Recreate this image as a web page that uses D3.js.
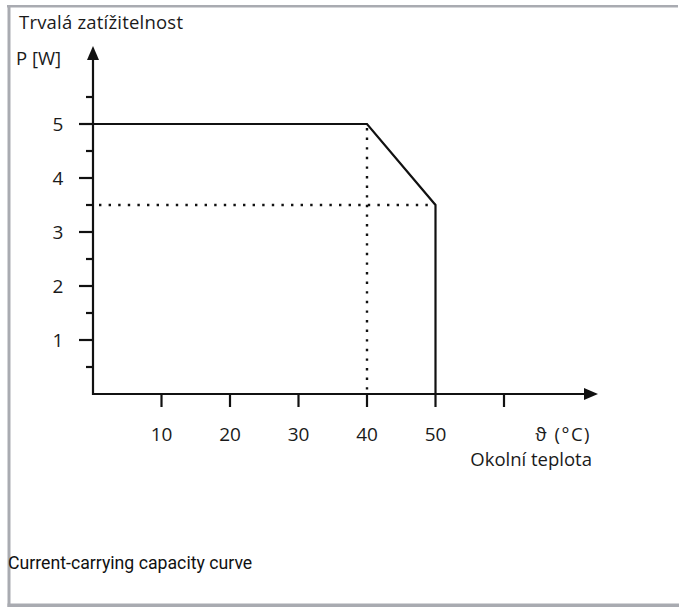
<!DOCTYPE html>
<html>
<head>
<meta charset="utf-8">
<script src="https://cdn.jsdelivr.net/npm/d3@7"></script>
<style>
  body { margin: 0; background: #fff; }
  svg text { font-family: "Open Sans", sans-serif; fill: #1a1a1a; }
</style>
</head>
<body>
<div id="chart"></div>
<script>
// data: derating curve (temperature -> power)
const curveT = [0, 40, 50, 50]
const curveP = [5, 5, 3.5, 0]
const xTicks = [10, 20, 30, 40, 50, 60]
const xTickLabels = ["10", "20", "30", "40", "50", ""]
const yMajor = [1, 2, 3, 4, 5]
const yMinor = [0.5, 1.5, 2.5, 3.5, 4.5, 5.5]
const kneeT = 40
const endT = 50
const endP = 3.5

const width = 679
const height = 607

const svg = d3.select("div#chart").append("svg").attr("width", width).attr("height", height)

// frame
const frame = svg.append("g").attr("id", "frame").attr("fill", "#a9abb1")
frame.append("rect").attr("x", 7).attr("y", 5).attr("width", 671).attr("height", 2.5)
frame.append("rect").attr("x", 7.5).attr("y", 5).attr("width", 3).attr("height", 602)
frame.append("rect").attr("x", 7.5).attr("y", 603.5).attr("width", 671.5).attr("height", 3.5)

const x = d3.scaleLinear().domain([0, 60]).range([93, 504])
const y = d3.scaleLinear().domain([0, 5]).range([394, 124])

const g = svg.append("g").attr("id", "elementGroup")

// dotted guides
g.append("line")
  .attr("x1", x(kneeT)).attr("x2", x(kneeT))
  .attr("y1", y(5) + 4).attr("y2", y(0))
  .attr("stroke", "#111").attr("stroke-width", 2.4)
  .attr("stroke-dasharray", "2.4,7.2")
g.append("line")
  .attr("x1", x(0) + 6).attr("x2", x(endT))
  .attr("y1", y(endP)).attr("y2", y(endP))
  .attr("stroke", "#111").attr("stroke-width", 2.4)
  .attr("stroke-dasharray", "2.4,7.2")

// curve
const pts = curveT.map((t, i) => ({t: t, p: curveP[i]}))
const line = d3.line().x(d => x(d.t)).y(d => y(d.p))
g.append("path").datum(pts)
  .attr("d", line)
  .attr("fill", "none")
  .attr("stroke", "#111")
  .attr("stroke-width", 2.2)

// axes
const axisColor = "#111"
const xEnd = 598
const yTop = 46
g.append("line").attr("x1", x(0)).attr("x2", xEnd - 10).attr("y1", y(0)).attr("y2", y(0))
  .attr("stroke", axisColor).attr("stroke-width", 2.2)
g.append("line").attr("x1", x(0)).attr("x2", x(0)).attr("y1", y(0) + 1).attr("y2", yTop + 10)
  .attr("stroke", axisColor).attr("stroke-width", 2.2)
// arrow heads
g.append("path").attr("d", `M${xEnd},${y(0)} L${xEnd - 14},${y(0) - 6} L${xEnd - 14},${y(0) + 6} Z`).attr("fill", axisColor)
g.append("path").attr("d", `M${x(0)},${yTop} L${x(0) - 6},${yTop + 14} L${x(0) + 6},${yTop + 14} Z`).attr("fill", axisColor)

// x ticks
g.selectAll(".xtick").data(xTicks).enter().append("line")
  .attr("class", "xtick")
  .attr("x1", d => x(d)).attr("x2", d => x(d))
  .attr("y1", y(0)).attr("y2", y(0) + 13)
  .attr("stroke", axisColor).attr("stroke-width", 2.2)
g.selectAll(".xlabel").data(xTicks).enter().append("text")
  .attr("class", "xlabel")
  .attr("x", d => x(d)).attr("y", 441)
  .attr("text-anchor", "middle")
  .style("font-size", "19px")
  .text((d, i) => xTickLabels[i])

// y ticks
g.selectAll(".ymajor").data(yMajor).enter().append("line")
  .attr("class", "ymajor")
  .attr("x1", x(0) - 14).attr("x2", x(0))
  .attr("y1", d => y(d)).attr("y2", d => y(d))
  .attr("stroke", axisColor).attr("stroke-width", 2.2)
g.selectAll(".yminor").data(yMinor).enter().append("line")
  .attr("class", "yminor")
  .attr("x1", x(0) - 7).attr("x2", x(0))
  .attr("y1", d => y(d)).attr("y2", d => y(d))
  .attr("stroke", axisColor).attr("stroke-width", 2.2)
g.selectAll(".ylabel").data(yMajor).enter().append("text")
  .attr("class", "ylabel")
  .attr("x", 58).attr("y", d => y(d) + 7)
  .attr("text-anchor", "middle")
  .style("font-size", "19px")
  .text(d => d)

// axis titles
svg.append("text").attr("x", 19).attr("y", 29).style("font-size", "18.5px").attr("textLength", 164).text("Trvalá zatížitelnost")
svg.append("text").attr("x", 16).attr("y", 65).style("font-size", "18.5px").text("P [W]")
svg.append("text").attr("x", 591).attr("y", 441).attr("text-anchor", "end").style("font-size", "18.5px")
  .style("letter-spacing", "1.5px").text("ϑ (°C)")
svg.append("text").attr("x", 592).attr("y", 466).attr("text-anchor", "end").style("font-size", "18.5px").text("Okolní teplota")

// caption
svg.append("text").attr("x", 8).attr("y", 569)
  .style("font-family", "Roboto, sans-serif").style("font-size", "17.7px").style("fill", "#111")
  .text("Current-carrying capacity curve")
</script>
</body>
</html>
